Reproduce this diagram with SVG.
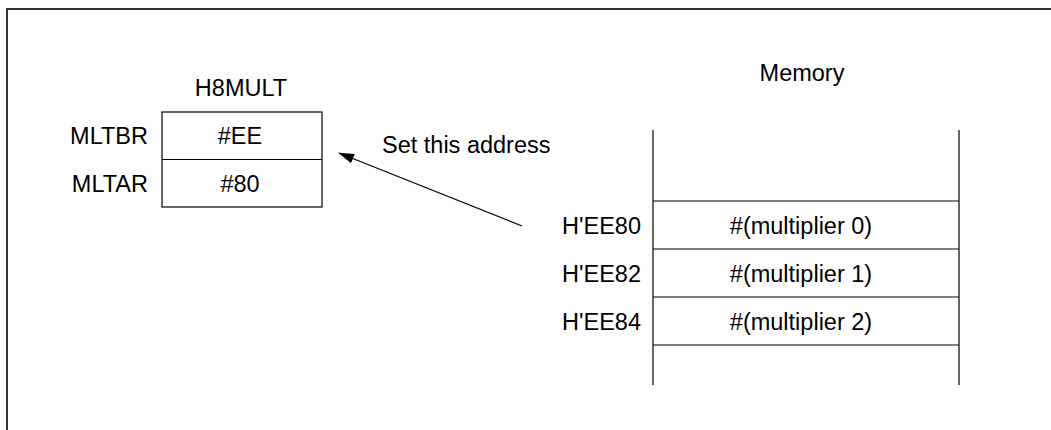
<svg xmlns="http://www.w3.org/2000/svg" width="1051" height="430" viewBox="0 0 1051 430">
<defs>
<style>
text{font-family:"Liberation Sans",Arial,sans-serif;font-size:23.5px;fill:#000}
.m{text-anchor:middle}
.r{text-anchor:end}
.ln{stroke:#000;stroke-width:1.2;fill:none}
</style>
<marker id="ah" markerWidth="16" markerHeight="10" refX="15" refY="5" orient="auto" markerUnits="userSpaceOnUse">
<path d="M0,0 L16,5 L0,10 Z" fill="#000"/>
</marker>
</defs>
<rect width="1051" height="430" fill="#fff"/>
<path d="M7,430 V9 H1051" stroke="#333" stroke-width="2" fill="none"/>
<g id="h8mult">
<text x="241" y="96" class="m">H8MULT</text>
<rect x="162" y="112" width="160" height="95" class="ln" fill="#fff"/>
<line x1="162" y1="159.5" x2="322" y2="159.5" class="ln"/>
<text x="148" y="144" class="r">MLTBR</text>
<text x="148" y="192" class="r">MLTAR</text>
<text x="240" y="144" class="m">#EE</text>
<text x="240" y="192" class="m">#80</text>
</g>
<g id="memory">
<text x="802" y="81" class="m">Memory</text>
<line x1="653" y1="130" x2="653" y2="385" class="ln"/>
<line x1="959" y1="130" x2="959" y2="385" class="ln"/>
<line x1="653" y1="201" x2="959" y2="201" class="ln"/>
<line x1="653" y1="249" x2="959" y2="249" class="ln"/>
<line x1="653" y1="297" x2="959" y2="297" class="ln"/>
<line x1="653" y1="345" x2="959" y2="345" class="ln"/>
<text x="641" y="234" class="r">H'EE80</text>
<text x="641" y="282" class="r">H'EE82</text>
<text x="641" y="330" class="r">H'EE84</text>
<text x="801" y="234" class="m">#(multiplier 0)</text>
<text x="801" y="282" class="m">#(multiplier 1)</text>
<text x="801" y="330" class="m">#(multiplier 2)</text>
</g>
<g id="connectors">
<line x1="522" y1="226" x2="339" y2="153" class="ln" marker-end="url(#ah)"/>
<text x="382" y="153">Set this address</text>
</g>
</svg>
